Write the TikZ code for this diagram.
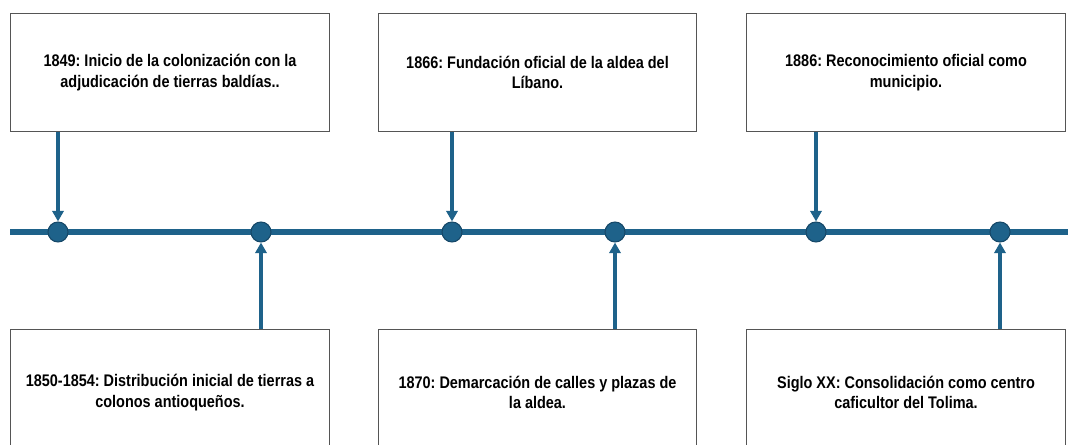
\documentclass[tikz,border=0pt]{standalone}
\usepackage{fontspec}
\setmainfont{Liberation Sans}[FakeStretch=0.86]
\usetikzlibrary{arrows.meta}
\frenchspacing

\definecolor{tlblue}{RGB}{30,98,138}
\definecolor{tldark}{RGB}{22,72,104}
\definecolor{boxgray}{RGB}{85,85,85}

\tikzset{
  eventbox/.style={draw=boxgray,line width=0.9pt,fill=white,rectangle,
    minimum width=239pt,minimum height=89pt,align=center,
    font=\fontsize{12.6}{15.5}\selectfont\bfseries},
  lowbox/.style={eventbox,minimum height=94pt},
  dot/.style={circle,fill=tlblue,draw=tldark,line width=0.8pt,minimum size=15pt,inner sep=0pt},
  pointer/.style={draw=tlblue,line width=2.3pt,-{Triangle[width=8.5pt,length=8pt]}},
}

\begin{document}
\begin{tikzpicture}[x=0.75pt,y=-0.75pt]

      \useasboundingbox (0,0) rectangle (1068,445);

      \coordinate (start) at (10,232);
      \coordinate (end) at (1068,232);
      \draw[tlblue,line width=4.5pt] (start) -- (end);

      \begin{scope}[every node/.style={dot}]
        \node (c1) at (58,232) {};
        \node (c2) at (261,232) {};
        \node (c3) at (452,232) {};
        \node (c4) at (615,232) {};
        \node (c5) at (816,232) {};
        \node (c6) at (1000,232) {};
      \end{scope}

      \begin{scope}[every node/.style={eventbox}]
        \node (t1) at (170,72.5) {1849: Inicio de la colonización con la\\adjudicación de tierras baldías..};
        \node (t2) at (537.5,72.5) {1866: Fundación oficial de la aldea del\\Líbano.};
        \node (t3) at (906,72.5) {1886: Reconocimiento oficial como\\municipio.};
      \end{scope}

      \begin{scope}[every node/.style={lowbox}]
        \node (b1) at (170,392.5) {1850-1854: Distribución inicial de tierras a\\colonos antioqueños.};
        \node (b2) at (537.5,392.5) {1870: Demarcación de calles y plazas de\\la aldea.};
        \node (b3) at (906,392.5) {Siglo XX: Consolidación como centro\\caficultor del Tolima.};
      \end{scope}

      \begin{scope}[every path/.style={pointer}]
        \path (t1.south -| c1) -- (c1.north);
        \path (t2.south -| c3) -- (c3.north);
        \path (t3.south -| c5) -- (c5.north);
        \path (b1.north -| c2) -- (c2.south);
        \path (b2.north -| c4) -- (c4.south);
        \path (b3.north -| c6) -- (c6.south);
      \end{scope}

    \end{tikzpicture}
\end{document}
